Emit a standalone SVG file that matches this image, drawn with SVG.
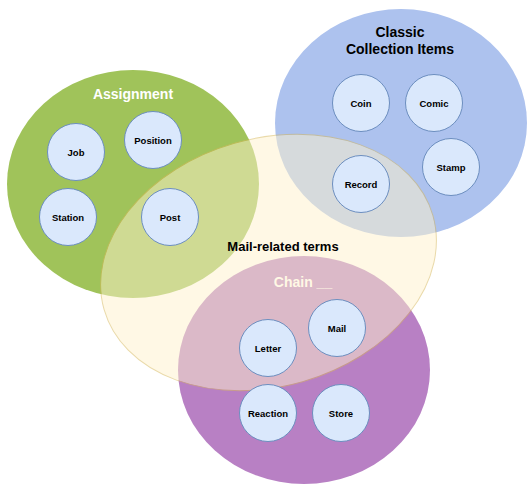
<svg xmlns="http://www.w3.org/2000/svg" width="528" height="484" viewBox="0 0 528 484">
<style>
.set{stroke:none}
.node circle{fill:#dae8fc;stroke:#6c8ebf;stroke-width:1}
.node text{font-family:"Liberation Sans",Arial,sans-serif;font-weight:bold;font-size:9.5px;fill:#000;text-anchor:middle;dominant-baseline:central}
.lbl{font-family:"Liberation Sans",Arial,sans-serif;font-weight:bold;font-size:14px;text-anchor:middle;dominant-baseline:central}
</style>
<rect width="528" height="484" fill="#ffffff"/>
<g id="assignment">
<ellipse class="set" cx="133" cy="184" rx="126" ry="114" fill="#a0c35a"/>
<text class="lbl" x="133" y="94" fill="#ffffff">Assignment</text>
</g>
<g id="classic">
<ellipse class="set" cx="401" cy="123" rx="126" ry="114" fill="#adc2ee"/>
<text class="lbl" x="400" y="32" fill="#000000">Classic</text>
<text class="lbl" x="400" y="49" fill="#000000">Collection Items</text>
</g>
<g id="chain">
<ellipse class="set" cx="304" cy="370" rx="126" ry="114" fill="#b880c4"/>
<text class="lbl" x="303" y="282" fill="#ffffff">Chain __</text>
</g>
<g id="mail-related">
<ellipse cx="268.5" cy="262.5" rx="171" ry="124" transform="rotate(-16 268.5 262.5)" fill="#fff2cc" stroke="#d6b656" stroke-width="1" opacity="0.5"/>
<text class="lbl" x="283" y="246" fill="#000000" style="font-size:13px">Mail-related terms</text>
</g>
<g id="connectors"></g>
<g id="job" class="node"><circle cx="76" cy="152" r="28.5"/><text x="76" y="152">Job</text></g>
<g id="position" class="node"><circle cx="153" cy="140" r="28.5"/><text x="153" y="140">Position</text></g>
<g id="station" class="node"><circle cx="68" cy="217" r="28.5"/><text x="68" y="217">Station</text></g>
<g id="post" class="node"><circle cx="170" cy="217" r="28.5"/><text x="170" y="217">Post</text></g>
<g id="coin" class="node"><circle cx="361" cy="103" r="28.5"/><text x="361" y="103">Coin</text></g>
<g id="comic" class="node"><circle cx="434" cy="103" r="28.5"/><text x="434" y="103">Comic</text></g>
<g id="stamp" class="node"><circle cx="451" cy="167" r="28.5"/><text x="451" y="167">Stamp</text></g>
<g id="record" class="node"><circle cx="361" cy="184" r="28.5"/><text x="361" y="184">Record</text></g>
<g id="letter" class="node"><circle cx="268" cy="348" r="28.5"/><text x="268" y="348">Letter</text></g>
<g id="mail" class="node"><circle cx="337" cy="328" r="28.5"/><text x="337" y="328">Mail</text></g>
<g id="reaction" class="node"><circle cx="268" cy="413" r="28.5"/><text x="268" y="413">Reaction</text></g>
<g id="store" class="node"><circle cx="341" cy="413" r="28.5"/><text x="341" y="413">Store</text></g>
</svg>
